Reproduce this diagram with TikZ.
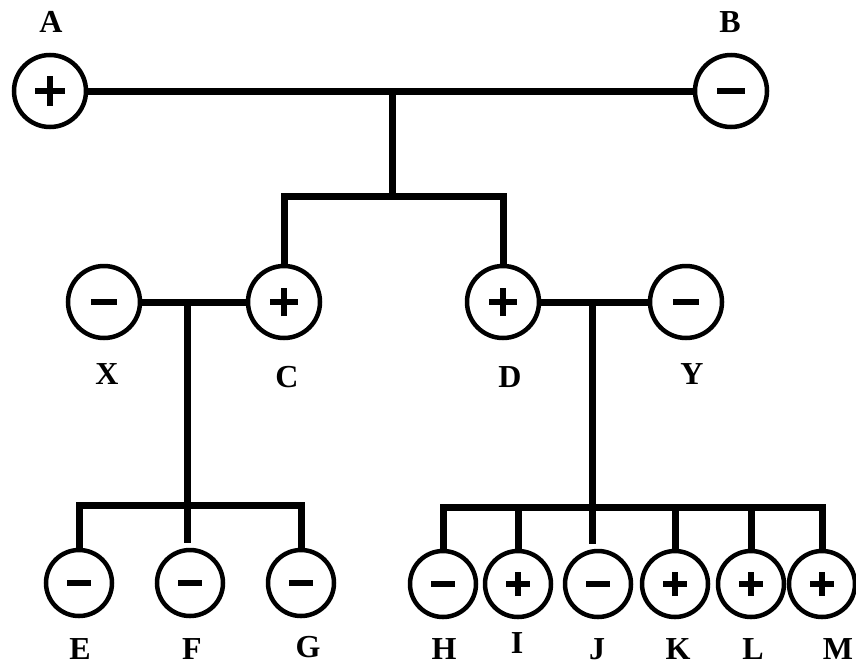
\documentclass[tikz,border=0pt]{standalone}
\usepackage{fontspec}
\setmainfont{Liberation Serif}
\begin{document}
\begin{tikzpicture}[x=1pt,y=-1pt]
\tikzset{
  ion/.style={circle, draw, line width=4.5pt, minimum size=72pt, inner sep=0pt},
  ionsmall/.style={ion, minimum size=66pt},
  link/.style={line width=7pt},
  sign/.style={line width=6.5pt},
  lbl/.style={inner sep=0pt, font=\bfseries\fontsize{32}{32}\selectfont}
}
% plus / minus marks drawn inside a named circle
\newcommand\posmark[2]{\draw[sign] ([xshift=-#2pt]#1.center) -- ([xshift=#2pt]#1.center)
  ([yshift=-#2pt]#1.center) -- ([yshift=#2pt]#1.center);}
\newcommand\negmark[2]{\draw[sign] ([xshift=-#2pt]#1.center) -- ([xshift=#2pt]#1.center);}

\useasboundingbox (0,0) rectangle (856,667);

% ions
\node[ion] (A) at (50,91) {};
\node[ion] (B) at (731,91) {};
\node[ion] (X) at (104,302) {};
\node[ion] (C) at (284,302) {};
\node[ion] (D) at (503,302) {};
\node[ion] (Y) at (686,302) {};
\node[ionsmall] (E) at (79,583) {};
\node[ionsmall] (F) at (190,583) {};
\node[ionsmall] (G) at (301,583) {};
\node[ionsmall] (H) at (443,584) {};
\node[ionsmall] (I) at (518,584) {};
\node[ionsmall] (J) at (598,584) {};
\node[ionsmall] (K) at (675,584) {};
\node[ionsmall] (L) at (751,584) {};
\node[ionsmall] (M) at (822,584) {};

\posmark{A}{15} \negmark{B}{14}
\negmark{X}{13} \posmark{C}{14} \posmark{D}{14} \negmark{Y}{13}
\negmark{E}{12} \negmark{F}{12} \negmark{G}{12}
\negmark{H}{12} \posmark{I}{12} \negmark{J}{12}
\posmark{K}{12} \posmark{L}{12} \posmark{M}{12}

% junction points
\coordinate (ab) at (392,91);
\coordinate (cd) at (392,196);
\coordinate (xc) at (187,302);
\coordinate (bl) at (187,505);
\coordinate (dy) at (592,302);
\coordinate (br) at (592,507);

% connectors
\draw[link] (A) -- (B);
\draw[link] (ab) -- (cd);
\draw[link] (C.north) |- (cd) -| (D.north);
\draw[link] (X) -- (C);
\draw[link] (D) -- (Y);
\draw[link] (xc) -- (bl);
\draw[link] (E.north) |- (bl) -| (G.north);
\draw[link] (bl) -- ([yshift=5pt]bl |- F.north);
\draw[link] (dy) -- (br);
\draw[link] (H.north) |- (br) -| (M.north);
\draw[link] (br) -- ([yshift=5pt]br |- J.north);
\draw[link] (I.north) -- (I.north |- br);
\draw[link] (K.north) -- (K.north |- br);
\draw[link] (L.north) -- (L.north |- br);

% labels
\node[lbl] (lA) at (51,22) {A};
\node[lbl] (lB) at (730,22) {B};
\node[lbl] (lX) at (107,374) {X};
\node[lbl] (lC) at (287,377) {C};
\node[lbl] (lD) at (510,377) {D};
\node[lbl] (lY) at (692,374) {Y};
\node[lbl] (lE) at (80,649) {E};
\node[lbl] (lF) at (192,649) {F};
\node[lbl] (lG) at (308,647) {G};
\node[lbl] (lH) at (444,649) {H};
\node[lbl] (lI) at (517,643) {I};
\node[lbl] (lJ) at (597,649) {J};
\node[lbl] (lK) at (678,649) {K};
\node[lbl] (lL) at (753,649) {L};
\node[lbl] (lM) at (838,649) {M};
\end{tikzpicture}
\end{document}
